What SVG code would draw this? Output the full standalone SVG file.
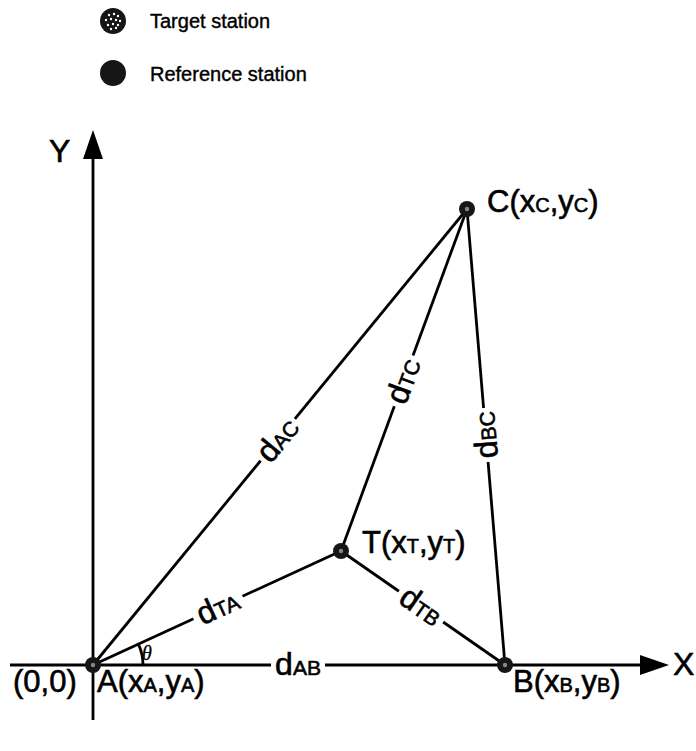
<svg xmlns="http://www.w3.org/2000/svg" width="696" height="751" viewBox="0 0 696 751">
<style>
text{font-family:"Liberation Sans",Arial,sans-serif;fill:#000;stroke:#000;stroke-width:0.6}
.lbl{font-size:31px}
.sub{font-size:20px}
.dl{font-size:32px}
.ds{font-size:21px}
.leg{font-size:20px;stroke-width:0.4}
.edge{stroke:#000;stroke-width:2.8;fill:none}
.gap{fill:#fff}
.node{fill:#161616}
</style>
<defs>
<marker id="arr" viewBox="0 0 29 20" refX="0" refY="10" markerWidth="29" markerHeight="20" markerUnits="userSpaceOnUse" orient="auto">
<path d="M0,0 L29,10 L0,20 Z" fill="#000"/>
</marker>
<g id="dot">
<circle r="8" class="node"/>
<circle r="2.2" fill="#888"/>
</g>
</defs>
<g id="legend">
<g id="legend-target">
<circle cx="113" cy="21" r="13" fill="#161616"/>
<g fill="#fff">
<circle cx="109" cy="15" r="1.2"/><circle cx="114" cy="14" r="1.2"/><circle cx="118" cy="16" r="1.2"/>
<circle cx="106" cy="20" r="1.2"/><circle cx="111" cy="19" r="1.2"/><circle cx="116" cy="20" r="1.2"/><circle cx="120" cy="21" r="1.2"/>
<circle cx="108" cy="25" r="1.2"/><circle cx="113" cy="24" r="1.2"/><circle cx="118" cy="25" r="1.2"/>
<circle cx="111" cy="29" r="1.2"/><circle cx="116" cy="28" r="1.2"/>
</g>
<text class="leg" x="150" y="28">Target station</text>
</g>
<g id="legend-reference">
<circle cx="113" cy="73" r="13" fill="#161616"/>
<text class="leg" x="150" y="81">Reference station</text>
</g>
</g>
<g id="axes">
<line class="edge" x1="93" y1="720" x2="93" y2="159" marker-end="url(#arr)"/>
<line class="edge" x1="10" y1="665" x2="640" y2="665" marker-end="url(#arr)"/>
<text class="lbl" x="49" y="162" style="font-size:32px">Y</text>
<text class="lbl" x="673" y="675" style="font-size:32px">X</text>
</g>
<g id="connectors">
<line class="edge" x1="93" y1="665" x2="467" y2="209"/>
<line class="edge" x1="341" y1="551" x2="467" y2="209"/>
<line class="edge" x1="505" y1="665" x2="467" y2="209"/>
<line class="edge" x1="93" y1="665" x2="341" y2="551"/>
<line class="edge" x1="341" y1="551" x2="505" y2="665"/>
<path class="edge" d="M143,665 A50,50 0 0 0 138.4,644.1" stroke-width="2"/>
<text x="142" y="660" style="font-size:20px;font-style:italic;font-family:'Liberation Serif',serif;stroke-width:0.3">θ</text>
<g transform="translate(298,665)">
<rect class="gap" x="-27" y="-3" width="54" height="6"/>
<text x="0" y="10" text-anchor="middle"><tspan class="dl">d</tspan><tspan class="ds">AB</tspan></text>
</g>
<g transform="translate(278,440) rotate(-50.6)">
<rect class="gap" x="-27" y="-3" width="54" height="6"/>
<text x="0" y="10" text-anchor="middle"><tspan class="dl">d</tspan><tspan class="ds">AC</tspan></text>
</g>
<g transform="translate(404,381) rotate(-69.8)">
<rect class="gap" x="-27" y="-3" width="54" height="6"/>
<text x="0" y="10" text-anchor="middle"><tspan class="dl">d</tspan><tspan class="ds">TC</tspan></text>
</g>
<g transform="translate(486,435) rotate(-94.8)">
<rect class="gap" x="-27" y="-3" width="54" height="6"/>
<text x="0" y="10" text-anchor="middle"><tspan class="dl">d</tspan><tspan class="ds">BC</tspan></text>
</g>
<g transform="translate(218,607.5) rotate(-24.7)">
<rect class="gap" x="-27" y="-3" width="54" height="6"/>
<text x="0" y="10" text-anchor="middle"><tspan class="dl">d</tspan><tspan class="ds">TA</tspan></text>
</g>
<g transform="translate(421,606.6) rotate(34.8)">
<rect class="gap" x="-27" y="-3" width="54" height="6"/>
<text x="0" y="10" text-anchor="middle"><tspan class="dl">d</tspan><tspan class="ds">TB</tspan></text>
</g>
</g>
<g id="node-A">
<use href="#dot" x="93" y="665"/>
<text class="lbl" x="13" y="692">(0,0)</text>
<text class="lbl" x="97" y="692">A(x<tspan class="sub">A</tspan>,y<tspan class="sub">A</tspan>)</text>
</g>
<g id="node-B">
<use href="#dot" x="505" y="665"/>
<text class="lbl" x="513" y="692">B(x<tspan class="sub">B</tspan>,y<tspan class="sub">B</tspan>)</text>
</g>
<g id="node-C">
<use href="#dot" x="467" y="209"/>
<text class="lbl" x="487" y="212">C(x<tspan class="sub">C</tspan>,y<tspan class="sub">C</tspan>)</text>
</g>
<g id="node-T">
<use href="#dot" x="341" y="551"/>
<text class="lbl" x="362" y="553">T(x<tspan class="sub">T</tspan>,y<tspan class="sub">T</tspan>)</text>
</g>
</svg>
